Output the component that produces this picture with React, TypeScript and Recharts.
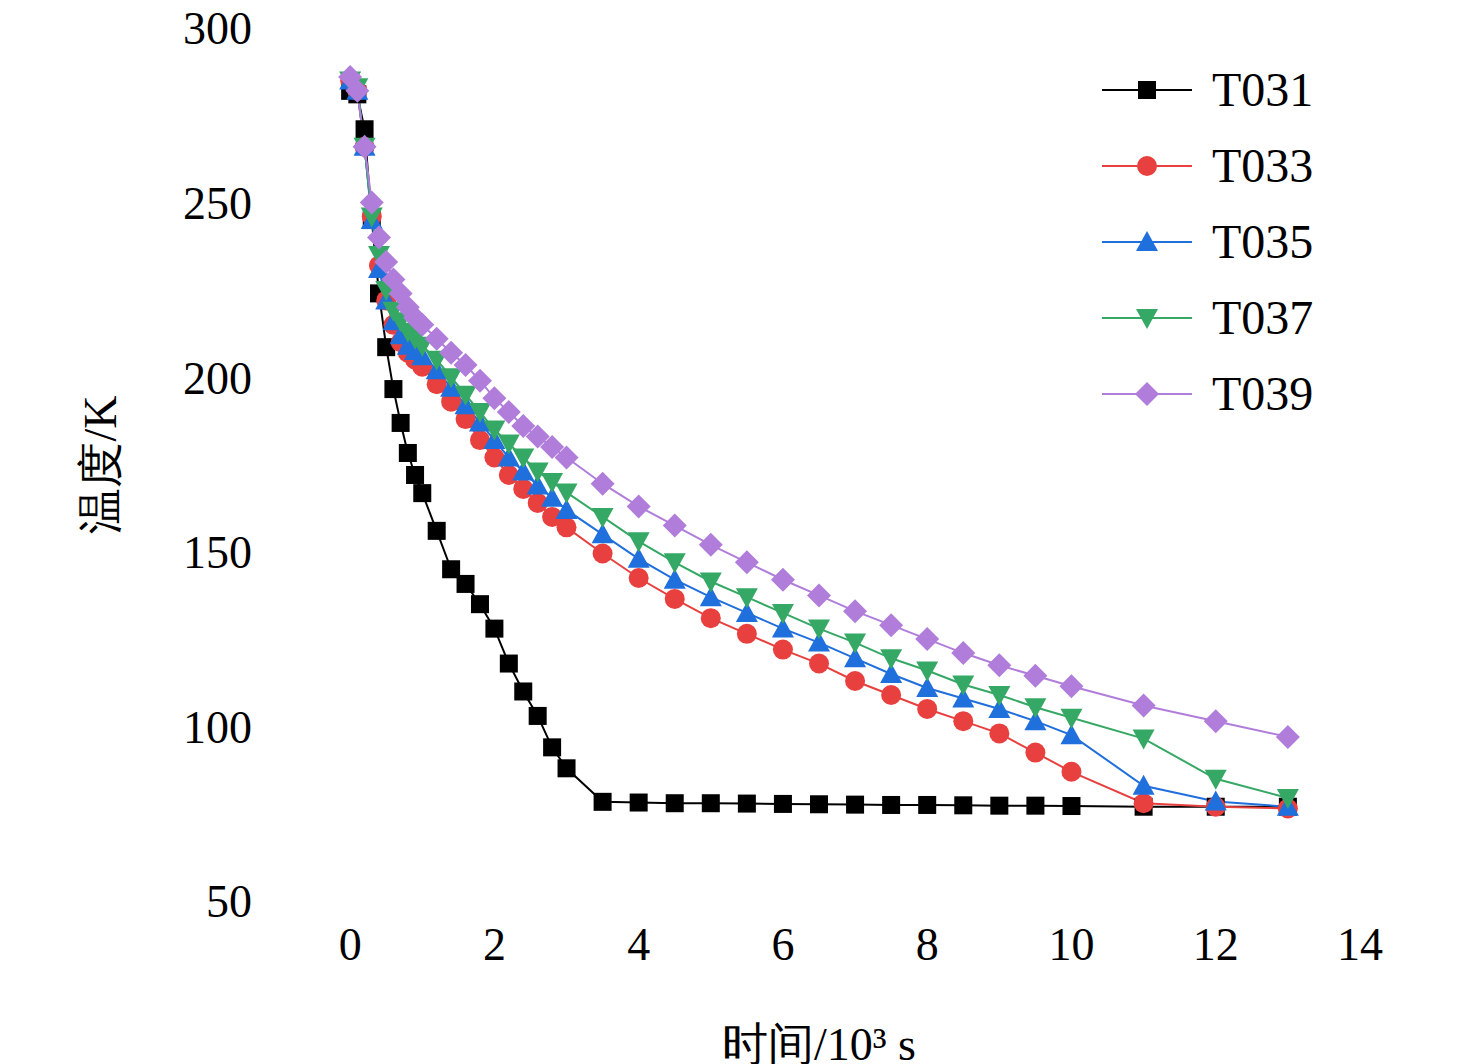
import React from 'react'
import { LineChart, Line, XAxis, YAxis } from 'recharts'

const TIME = [0, 0.1, 0.2, 0.3, 0.4, 0.5, 0.6, 0.7, 0.8, 0.9, 1.0, 1.2, 1.4, 1.6, 1.8, 2.0, 2.2, 2.4, 2.6, 2.8, 3.0,
  3.5, 4, 4.5, 5, 5.5, 6, 6.5, 7, 7.5, 8, 8.5, 9, 9.5, 10, 11, 12, 13]

const T031 = [282, 281, 271, 245, 224, 208.6, 196.6, 186.9, 178.3, 172, 166.8, 156, 145, 140.8, 135, 128, 118, 110, 103, 94, 88,
  78.4, 78.2, 78, 78, 77.9, 77.8, 77.7, 77.6, 77.5, 77.5, 77.4, 77.3, 77.3, 77.2, 77, 77, 77]
const T033 = [285, 282, 266, 246, 232, 222, 215, 210, 207, 205, 203, 198, 193, 188, 182, 177, 172, 168, 164, 160, 157,
  149.5, 142.5, 136.5, 131, 126.5, 122, 118, 113, 109, 105, 101.5, 98, 92.5, 87, 78, 77, 76.5]
const T035 = [285, 282, 266, 245, 231, 222, 216, 212, 209, 207.5, 206, 202, 197, 192, 187, 182, 177, 173, 169, 165.5, 162,
  155, 148, 142, 137, 132.5, 128, 124, 119.5, 115, 111, 108, 105, 101.5, 97.5, 83, 78.5, 77]
const T037 = [285, 283, 266, 246, 235, 225, 219, 216, 213, 211, 209, 205, 200, 195, 190, 185, 181, 177, 173, 170, 167,
  160, 153, 147, 141.5, 137, 132.5, 128, 124, 119.5, 116, 112, 109, 105.5, 102.5, 96.5, 85, 79.5]
const T039 = [286, 282, 266, 250, 240, 233, 228, 224, 220, 217, 215, 211, 207, 203.5, 199, 194, 190, 186, 183, 180, 177,
  169.5, 163, 157.5, 152, 147, 142, 137.5, 133, 129, 125, 121, 117.5, 114.5, 111.5, 106, 101.5, 97]

const X_TICKS = [0, 2, 4, 6, 8, 10, 12, 14]
const Y_TICKS = [50, 100, 150, 200, 250, 300]

const SERIES = [
  { key: 'T031', color: '#000000', shape: 'square' },
  { key: 'T033', color: '#e8403f', shape: 'circle' },
  { key: 'T035', color: '#1f6fdc', shape: 'up' },
  { key: 'T037', color: '#36a865', shape: 'down' },
  { key: 'T039', color: '#b07ddb', shape: 'diamond' },
]

const data = TIME.map((t, i) => ({
  t, T031: T031[i], T033: T033[i], T035: T035[i], T037: T037[i], T039: T039[i],
}))

const font = '"Liberation Serif", "Times New Roman", serif'

function Marker({ shape, color, cx, cy }: { shape: string; color: string; cx: number; cy: number }) {
  if (shape === 'square') return <rect x={cx - 9} y={cy - 9} width={18} height={18} fill={color} />
  if (shape === 'circle') return <circle cx={cx} cy={cy} r={10} fill={color} />
  if (shape === 'up') return <polygon points={`${cx},${cy - 11} ${cx - 11},${cy + 9} ${cx + 11},${cy + 9}`} fill={color} />
  if (shape === 'down') return <polygon points={`${cx},${cy + 11} ${cx - 11},${cy - 9} ${cx + 11},${cy - 9}`} fill={color} />
  return <polygon points={`${cx},${cy - 12} ${cx + 12},${cy} ${cx},${cy + 12} ${cx - 12},${cy}`} fill={color} />
}

function LegendBox() {
  return (
    <svg width={250} height={360} style={{ position: 'absolute', left: 1100, top: 68 }}>
      {SERIES.map((s, i) => {
        const y = 22 + i * 76
        return (
          <g key={s.key}>
            <line x1={2} x2={92} y1={y} y2={y} stroke={s.color} strokeWidth={2} />
            <Marker shape={s.shape} color={s.color} cx={47} cy={y} />
            <text x={112} y={y + 16} fontFamily={font} fontSize={48} fill="#000">{s.key}</text>
          </g>
        )
      })}
    </svg>
  )
}

export default function App() {
  return (
    <div style={{ position: 'absolute', left: 0, top: 0, width: 1476, height: 1064, background: '#fff' }}>
      <LineChart width={1476} height={1064} data={data} margin={{ top: 28, right: 116, bottom: 0, left: 0 }}>
        <XAxis xAxisId="bin" dataKey="t" type="number" domain={[-1, 14]} ticks={X_TICKS} height={0} mirror
          tickSize={10} tick={false} stroke="#000" strokeWidth={2} />
        <XAxis dataKey="t" type="number" domain={[-1, 14]} ticks={X_TICKS} height={163}
          tickLine={false} axisLine={false} tickMargin={20}
          tick={{ fontFamily: font, fontSize: 46, fill: '#000' }}
          label={{ value: '时间/10³ s', position: 'insideBottom', offset: 4, fontFamily: font, fontSize: 46, fill: '#000' }} />
        <XAxis xAxisId="top" orientation="top" dataKey="t" type="number" domain={[-1, 14]} ticks={X_TICKS} height={0} mirror
          tickSize={10} tick={false} stroke="#000" strokeWidth={2} />
        <YAxis yAxisId="lin" type="number" domain={[50, 300]} ticks={Y_TICKS} width={0} mirror
          tickSize={10} tick={false} stroke="#000" strokeWidth={2} />
        <YAxis type="number" domain={[50, 300]} ticks={Y_TICKS} width={278}
          tickLine={false} axisLine={false} tickMargin={20}
          tick={{ fontFamily: font, fontSize: 46, fill: '#000' }}
          label={{ value: '温度/K', angle: -90, position: 'insideLeft', offset: 100, fontFamily: font, fontSize: 46, fill: '#000', style: { textAnchor: 'middle' } }} />
        <YAxis yAxisId="right" orientation="right" type="number" domain={[50, 300]} ticks={Y_TICKS} width={0} mirror
          tickSize={10} tick={false} stroke="#000" strokeWidth={2} />
        {SERIES.map(s => (
          <Line key={s.key} dataKey={s.key} stroke={s.color} strokeWidth={2} isAnimationActive={false}
            dot={(p: any) => <Marker key={`${s.key}-${p.index}`} shape={s.shape} color={s.color} cx={p.cx} cy={p.cy} />}
            activeDot={false} />
        ))}
      </LineChart>
      <LegendBox />
    </div>
  )
}
